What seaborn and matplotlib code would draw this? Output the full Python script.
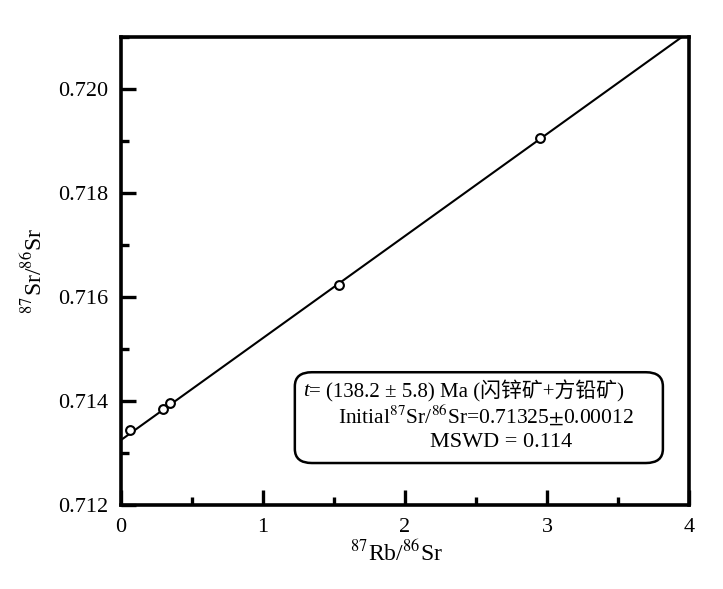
import numpy as np
import pandas as pd
import matplotlib
matplotlib.use("Agg")
import matplotlib.pyplot as plt
from matplotlib.patches import FancyBboxPatch
from matplotlib.ticker import MultipleLocator, FormatStrFormatter
from matplotlib.transforms import offset_copy
import seaborn as sns

# data
rb_sr = [0.063, 0.296, 0.345, 1.535, 2.95]        # 87Rb/86Sr
sr_sr = [0.71344, 0.71385, 0.71396, 0.71623, 0.71906]  # 87Sr/86Sr
intercept = 0.71325
slope = 0.001962
fit_x = [0.0, 3.95]

df = pd.DataFrame({"rb": rb_sr, "sr": sr_sr})
fit = pd.DataFrame({"rb": fit_x})
fit["sr"] = intercept + slope * fit["rb"]

sns.set_style("ticks")
plt.rcParams["font.family"] = ["Liberation Serif", "Noto Sans CJK SC"]
plt.rcParams["mathtext.fontset"] = "stix"
plt.rcParams["text.color"] = "black"
plt.rcParams["axes.labelcolor"] = "black"
plt.rcParams["xtick.color"] = "black"
plt.rcParams["ytick.color"] = "black"

fig = plt.figure(figsize=(7.23, 5.89), dpi=100)
ax = fig.add_axes([0.1674, 0.1426, 0.7856, 0.7946])

sns.lineplot(data=fit, x="rb", y="sr", color="black", lw=1.5, ax=ax)
sns.scatterplot(data=df, x="rb", y="sr", marker="o", s=40, facecolor="white",
                edgecolor="black", linewidth=1.5, ax=ax, zorder=3)

ax.set_xlim(0, 4)
ax.set_ylim(0.712, 0.721)
ax.xaxis.set_major_locator(MultipleLocator(1))
ax.xaxis.set_minor_locator(MultipleLocator(0.5))
ax.yaxis.set_major_locator(MultipleLocator(0.002))
ax.yaxis.set_minor_locator(MultipleLocator(0.001))
ax.yaxis.set_major_formatter(FormatStrFormatter("%.3f"))
ax.tick_params(which="both", direction="in", width=2.4, labelsize=16, pad=9)
ax.tick_params(which="major", length=11)
ax.tick_params(which="minor", length=6)
for s in ax.spines.values():
    s.set_linewidth(2.6)
    s.set_color("black")

ax.set_xlabel(r"$^{87}$Rb/$^{86}$Sr", fontsize=17, labelpad=6)
ax.set_ylabel(r"$^{87}$Sr/$^{86}$Sr", fontsize=17, labelpad=8)
ax.xaxis.set_label_coords(0.485, -0.075)

box = FancyBboxPatch((0.306, 0.0897), 0.648, 0.194, transform=ax.transAxes,
                     boxstyle="round,pad=0,rounding_size=0.03",
                     facecolor="white", edgecolor="black", lw=1.8, zorder=4)
ax.add_patch(box)

fs = 15.5
t_txt = ax.text(0.320, 0.243, "t", style="italic", transform=ax.transAxes,
                fontsize=fs, va="center", ha="left", zorder=5)
fig.canvas.draw()
w = t_txt.get_window_extent().width
ax.text(0.320, 0.243, "= (138.2 ± 5.8) Ma (闪锌矿+方铅矿)",
        transform=offset_copy(ax.transAxes, fig=fig, x=w * 72 / fig.dpi, units="points"),
        fontsize=fs - 0.5, va="center", ha="left", zorder=5)
ax.text(0.382, 0.192, r"Initial$^{87}$Sr/$^{86}$Sr=0.71325$\pm$0.00012",
        transform=ax.transAxes, fontsize=fs, va="center", ha="left", zorder=5)
ax.text(0.544, 0.133, "MSWD = 0.114",
        transform=ax.transAxes, fontsize=fs + 0.5, va="center", ha="left", zorder=5)

fig.savefig("out.png", dpi=100)
